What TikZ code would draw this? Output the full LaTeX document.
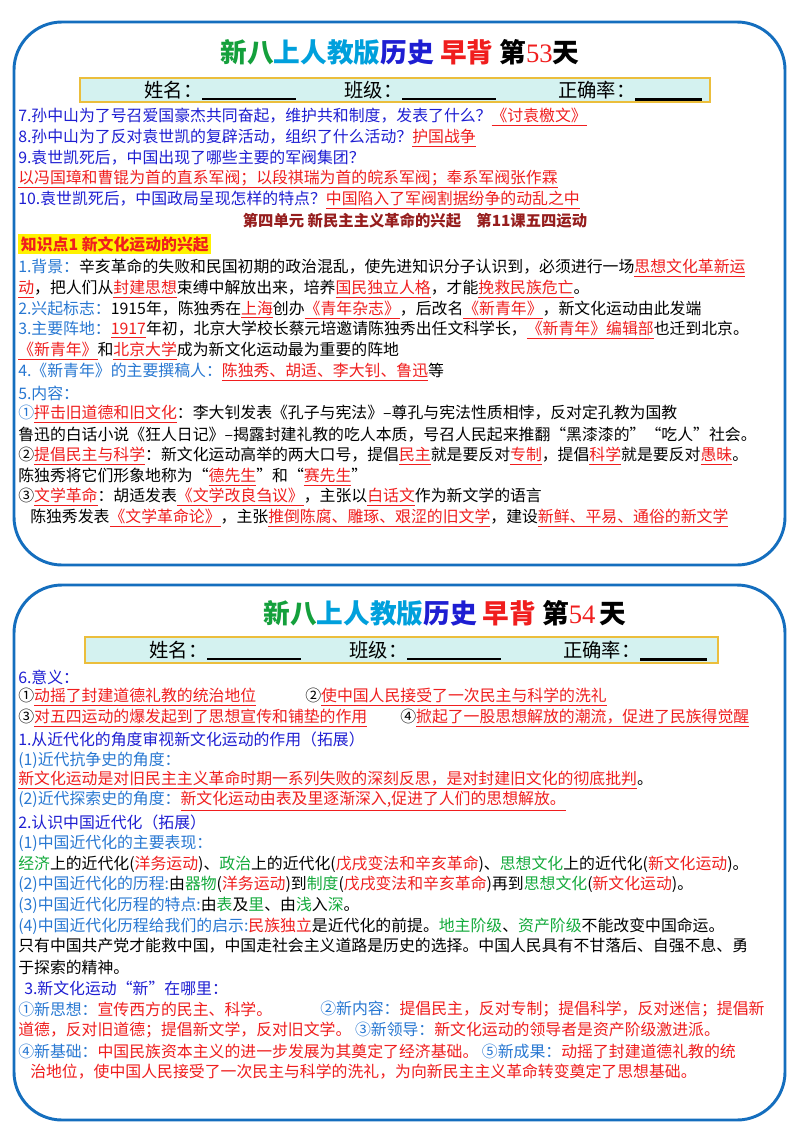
\documentclass[tikz,border=0pt]{standalone}
\usepackage{fontspec}
\setmainfont{Noto Sans CJK SC}
\newfontfamily\serifnum{Liberation Serif}
\definecolor{cardblue}{RGB}{20,110,190}
\definecolor{qblue}{RGB}{30,30,210}
\definecolor{lblue}{RGB}{40,120,210}
\definecolor{myred}{RGB}{240,30,30}
\definecolor{mygreen}{RGB}{20,170,60}
\definecolor{tgreen}{RGB}{20,160,60}
\definecolor{tcyan}{RGB}{0,160,220}
\definecolor{brown}{RGB}{150,30,30}
\definecolor{barfill}{RGB}{212,242,240}
\definecolor{bargold}{RGB}{235,190,60}
\newcommand\R[1]{{\color{myred}\underline{#1}}}
\newcommand\Rr[1]{{\color{myred}#1}}
\newcommand\G[1]{{\color{mygreen}#1}}
\newcommand\B[1]{{\color{lblue}#1}}
\tikzset{
  card/.style={draw=cardblue,line width=2.2pt,rounded corners=36pt},
  ln/.style={anchor=west,inner sep=0pt,font=\fontsize{11.9pt}{13pt}\selectfont},
  ttl/.style={inner sep=0pt,font=\fontsize{20pt}{22pt}\selectfont\bfseries},
  bar/.style={draw=bargold,fill=barfill,line width=0.8pt},
  bartext/.style={inner sep=0pt,font=\fontsize{14.5pt}{16pt}\selectfont}
}
\newcommand\blank{\rule[-2pt]{70pt}{1.6pt}}
\begin{document}
\begin{tikzpicture}[x=0.75pt,y=-0.75pt]
\useasboundingbox[fill=white] (0,0) rectangle (800,1131);
% cards
\draw[card] (14,22) rectangle (785,565);
\draw[card] (14,585) rectangle (785,1120);
% ---------- card 1
\node[ttl] (t1) at (400,52) {\color{tgreen}新八\color{tcyan}上人教版\color{qblue}历史\ \color{myred}早背\ \color{black}第{\color{myred}\serifnum\mdseries 53}天};
\draw[bar] (80,78) rectangle (710,102);
\node[bartext] (n1) at (220,91) {姓名：\blank};
\node[bartext] (c1) at (420,91) {班级：\blank};
\node[bartext] (z1) at (630,91) {正确率：\rule[-2pt]{50pt}{1.6pt}};
\node[ln] (q7) at (18,117) {\color{qblue}7.孙中山为了号召爱国豪杰共同奋起，维护共和制度，发表了什么？\R{《讨袁檄文》}};
\node[ln] (q8) at (18,138) {\color{qblue}8.孙中山为了反对袁世凯的复辟活动，组织了什么活动？\R{护国战争}};
\node[ln] (q9) at (18,158) {\color{qblue}9.袁世凯死后，中国出现了哪些主要的军阀集团？};
\node[ln] (a9) at (18,179) {\R{以冯国璋和曹锟为首的直系军阀；以段祺瑞为首的皖系军阀；奉系军阀张作霖}};
\node[ln] (q10) at (18,200) {\color{qblue}10.袁世凯死后，中国政局呈现怎样的特点？\R{中国陷入了军阀割据纷争的动乱之中}};
\node[inner sep=0pt,font=\fontsize{11.5pt}{13pt}\selectfont\bfseries,text=brown] (unit) at (415,221) {第四单元 新民主主义革命的兴起\quad 第11课五四运动};
\node[ln,fill=yellow,inner sep=2pt,text=myred] (kp) at (18,244) {\bfseries 知识点1 新文化运动的兴起};
\node[ln] (l1) at (18,268) {\B{1.背景：}辛亥革命的失败和民国初期的政治混乱，使先进知识分子认识到，必须进行一场\R{思想文化革新运}};
\node[ln] (l1b) at (18,289) {\R{动}，把人们从\R{封建思想}束缚中解放出来，培养\R{国民独立人格}，才能\R{挽救民族危亡}。};
\node[ln] (l2) at (18,310) {\B{2.兴起标志：}1915年，陈独秀在\R{上海}创办\R{《青年杂志》}，后改名\R{《新青年》}，新文化运动由此发端};
\node[ln] (l3) at (18,330) {\B{3.主要阵地：}\R{1917}年初，北京大学校长蔡元培邀请陈独秀出任文科学长，\R{《新青年》编辑部}也迁到北京。};
\node[ln] (l3b) at (18,351) {\R{《新青年》}和\R{北京大学}成为新文化运动最为重要的阵地};
\node[ln] (l4) at (18,372) {\B{4.《新青年》的主要撰稿人：}\R{陈独秀、胡适、李大钊、鲁迅}等};
\node[ln] (l5) at (18,393) {\B{5.内容：}};
\node[ln] (l5a) at (18,414) {\B{①}\R{抨击旧道德和旧文化}：李大钊发表《孔子与宪法》--尊孔与宪法性质相悖，反对定孔教为国教};
\node[ln] (l5b) at (18,435) {鲁迅的白话小说《狂人日记》--揭露封建礼教的吃人本质，号召人民起来推翻“黑漆漆的”“吃人”社会。};
\node[ln] (l5c) at (18,456) {②\R{提倡民主与科学}：新文化运动高举的两大口号，提倡\R{民主}就是要反对\R{专制}，提倡\R{科学}就是要反对\R{愚昧}。};
\node[ln] (l5d) at (18,477) {陈独秀将它们形象地称为“\R{德先生}”和“\R{赛先生}”};
\node[ln] (l5e) at (18,497) {③\R{文学革命}：胡适发表\R{《文学改良刍议》}，主张以\R{白话文}作为新文学的语言};
\node[ln] (l5f) at (30,518) {陈独秀发表\R{《文学革命论》}，主张\R{推倒陈腐、雕琢、艰涩的旧文学}，建设\R{新鲜、平易、通俗的新文学}};
% ---------- card 2
\node[ttl] (t2) at (445,613) {\color{tgreen}新八\color{tcyan}上人教版\color{qblue}历史\ \color{myred}早背\ \color{black}第{\color{myred}\serifnum\mdseries 54}\,天};
\draw[bar] (85,637) rectangle (718,663);
\node[bartext] (n2) at (225,651) {姓名：\blank};
\node[bartext] (c2) at (425,651) {班级：\blank};
\node[bartext] (z2) at (635,651) {正确率：\rule[-2pt]{50pt}{1.6pt}};
\node[ln] (m6) at (18,677) {\color{qblue}6.意义：};
\node[ln] (m1) at (18,697) {①\R{动摇了封建道德礼教的统治地位}};
\node[ln] (m2) at (305,697) {②\R{使中国人民接受了一次民主与科学的洗礼}};
\node[ln] (m3) at (18,718) {③\R{对五四运动的爆发起到了思想宣传和铺垫的作用}};
\node[ln] (m4) at (400,718) {④\R{掀起了一股思想解放的潮流，促进了民族得觉醒}};
\node[ln] (e1) at (18,739) {\color{qblue}1.从近代化的角度审视新文化运动的作用（拓展）};
\node[ln] (e11) at (18,760) {\B{(1)近代抗争史的角度：}};
\node[ln] (e11a) at (18,780) {\R{新文化运动是对旧民主主义革命时期一系列失败的深刻反思，是对封建旧文化的彻底批判}。};
\node[ln] (e12) at (18,801) {\B{(2)近代探索史的角度：}\R{新文化运动由表及里逐渐深入,促进了人们的思想解放。}};
\node[ln] (e2) at (18,822) {\color{qblue}2.认识中国近代化（拓展）};
\node[ln] (e21) at (18,843) {\B{(1)中国近代化的主要表现：}};
\node[ln] (e21a) at (18,864) {\G{经济}上的近代化(\Rr{洋务运动})、\G{政治}上的近代化(\Rr{戊戌变法和辛亥革命})、\G{思想文化}上的近代化(\Rr{新文化运动})。};
\node[ln] (e22) at (18,884) {\B{(2)中国近代化的历程:}由\G{器物}(\Rr{洋务运动})到\G{制度}(\Rr{戊戌变法和辛亥革命})再到\G{思想文化}(\Rr{新文化运动})。};
\node[ln] (e23) at (18,905) {\B{(3)中国近代化历程的特点:}由\G{表}及\G{里}、由\G{浅}入\G{深}。};
\node[ln] (e24) at (18,926) {\B{(4)中国近代化历程给我们的启示:}\Rr{民族独立}是近代化的前提。\G{地主阶级}、\G{资产阶级}不能改变中国命运。};
\node[ln] (e24b) at (18,946) {只有中国共产党才能救中国，中国走社会主义道路是历史的选择。中国人民具有不甘落后、自强不息、勇};
\node[ln] (e24c) at (18,967) {于探索的精神。};
\node[ln] (e3) at (24,988) {\color{qblue}3.新文化运动“新”在哪里：};
\node[ln] (e31) at (18,1009) {\B{①新思想：}\Rr{宣传西方的民主、科学。}};
\node[ln] (e32) at (320,1009) {\B{②新内容：}\Rr{提倡民主，反对专制；提倡科学，反对迷信；提倡新}};
\node[ln] (e32b) at (18,1030) {\Rr{道德，反对旧道德；提倡新文学，反对旧文学。}\ \B{③新领导：}\Rr{新文化运动的领导者是资产阶级激进派。}};
\node[ln] (e34) at (18,1051) {\B{④新基础：}\Rr{中国民族资本主义的进一步发展为其奠定了经济基础。}\ \B{⑤新成果：}\Rr{动摇了封建道德礼教的统}};
\node[ln] (e35) at (30,1072) {\Rr{治地位，使中国人民接受了一次民主与科学的洗礼，为向新民主主义革命转变奠定了思想基础。}};
\end{tikzpicture}
\end{document}
